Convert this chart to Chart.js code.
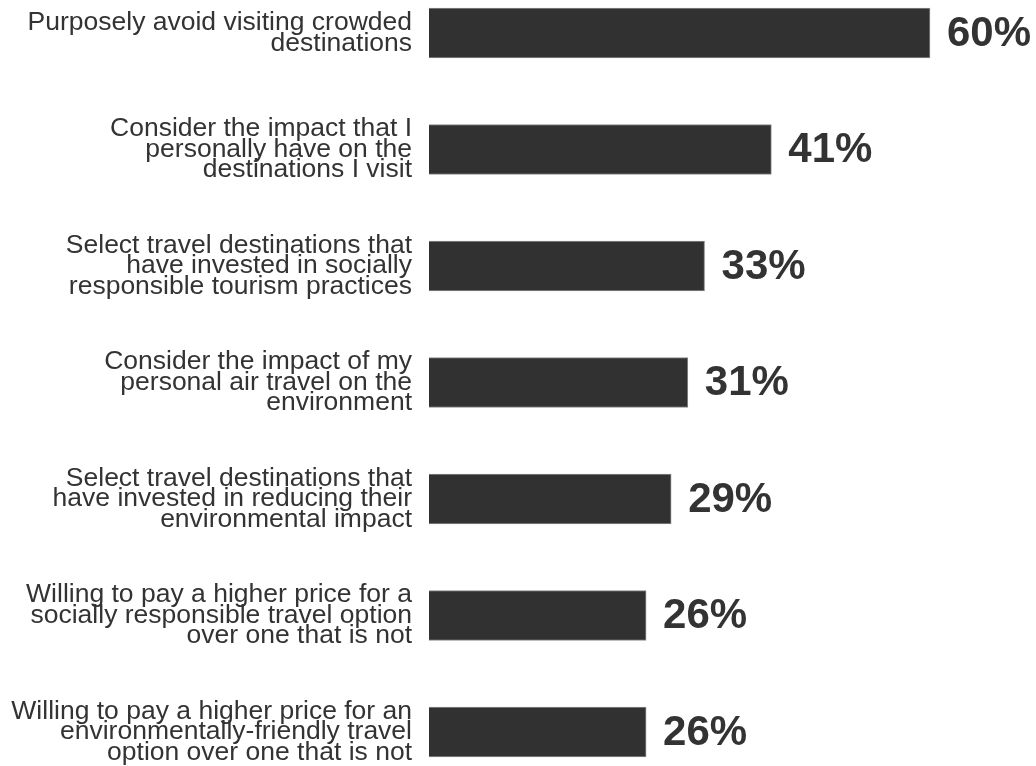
<!DOCTYPE html>
<html>
<head>
<meta charset="utf-8">
<script src="https://cdn.jsdelivr.net/npm/chart.js@4/dist/chart.umd.min.js"></script>
<style>
  html, body { margin: 0; padding: 0; background: #fff; }
  #wrap { width: 1036px; height: 766px; }
</style>
</head>
<body>
<div id="wrap"><canvas id="grafico"></canvas></div>
<script>
const categorie = [
  ["Purposely avoid visiting crowded", "destinations"],
  ["Consider the impact that I", "personally have on the", "destinations I visit"],
  ["Select travel destinations that", "have invested in socially", "responsible tourism practices"],
  ["Consider the impact of my", "personal air travel on the", "environment"],
  ["Select travel destinations that", "have invested in reducing their", "environmental impact"],
  ["Willing to pay a higher price for a", "socially responsible travel option", "over one that is not"],
  ["Willing to pay a higher price for an", "environmentally-friendly travel", "option over one that is not"]
];
const valori = [60, 41, 33, 31, 29, 26, 26];

// etichette percentuali a destra delle barre
const etichetteValori = {
  id: 'etichetteValori',
  afterDatasetsDraw(chart) {
    const ctx = chart.ctx;
    const meta = chart.getDatasetMeta(0);
    ctx.save();
    ctx.fillStyle = '#333333';
    ctx.font = 'bold 42px "Liberation Sans", Arial, sans-serif';
    ctx.textAlign = 'left';
    ctx.textBaseline = 'middle';
    meta.data.forEach((bar, i) => {
      ctx.fillText(valori[i] + '%', bar.x + 17, bar.y + 1);
    });
    ctx.restore();
  }
};

const ctx = document.getElementById("grafico").getContext("2d");
new Chart(ctx, {
  type: 'bar',
  data: {
    labels: categorie,
    datasets: [{
      data: valori,
      backgroundColor: '#313131',
      borderColor: '#8a8a8a',
      borderWidth: 1,
      barThickness: 50,
      clip: false
    }]
  },
  options: {
    indexAxis: 'y',
    responsive: true,
    maintainAspectRatio: false,
    animation: false,
    layout: { padding: { top: 33, bottom: 34, left: 0, right: 106 } },
    plugins: {
      legend: { display: false },
      tooltip: { enabled: false }
    },
    scales: {
      x: {
        display: false,
        min: 0,
        max: 60
      },
      y: {
        offset: false,
        grid: { display: false, drawTicks: false },
        border: { display: false },
        afterFit(scale) {
          scale.width = 429;
          scale.paddingTop = 0;
          scale.paddingBottom = 0;
        },
        ticks: {
          color: '#333333',
          padding: 17,
          font: { family: '"Liberation Sans", Arial, sans-serif', size: 26.5, lineHeight: 0.77 }
        }
      }
    }
  },
  plugins: [etichetteValori]
});
</script>
</body>
</html>
